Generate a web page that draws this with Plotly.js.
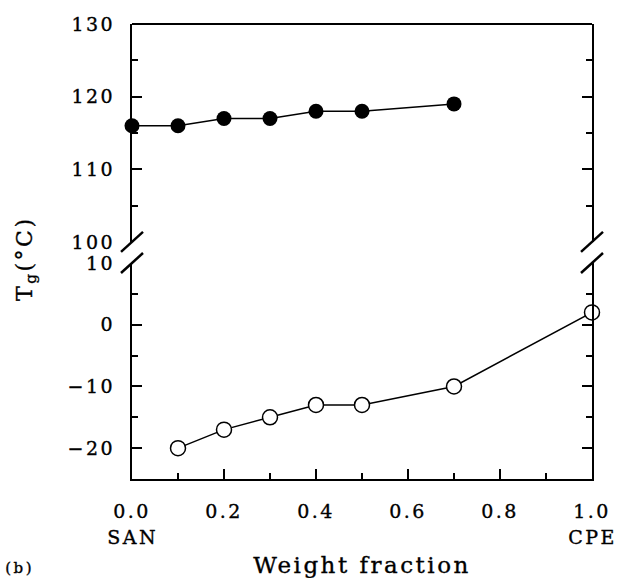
<!DOCTYPE html>
<html>
<head>
<meta charset="utf-8">
<script src="https://cdn.plot.ly/plotly-3.0.1.min.js"></script>
<style>
  html, body { margin: 0; padding: 0; background: #fff; }
  #chart { width: 619px; height: 578px; }
  /* wide, slightly heavy typewriter-style lettering */
  #chart svg text { letter-spacing: 2.5px; stroke: #000; stroke-width: 0.35px; }
</style>
</head>
<body>
<div id="chart"></div>
<script>
// Glass transition temperatures of SAN/CPE blends vs. CPE weight fraction
const sanFraction = [0.0, 0.1, 0.2, 0.3, 0.4, 0.5, 0.7];
const sanTg = [116, 116, 117, 117, 118, 118, 119];

const cpeFraction = [0.1, 0.2, 0.3, 0.4, 0.5, 0.7, 1.0];
const cpeTg = [-20, -17, -15, -13, -13, -10, 2];

const xTickVals = [0, 0.2, 0.4, 0.6, 0.8, 1.0];
const xTickText = ['0.0', '0.2', '0.4', '0.6', '0.8', '1.0'];
const upperTicks = [100, 110, 120, 130];
const lowerTicks = [-20, -10, 0, 10];

const serif = 'DejaVu Serif, Liberation Serif, serif';
const tickFont = { family: serif, size: 19, color: '#000' };

const lowerDomain = [0, 0.4747];
const upperDomain = [0.521, 1];

const traces = [
  {
    x: sanFraction, y: sanTg, xaxis: 'x', yaxis: 'y2',
    mode: 'lines+markers', cliponaxis: false,
    line: { color: '#000', width: 1.5 },
    marker: { symbol: 'circle', size: 15, color: '#000' },
    showlegend: false
  },
  {
    x: cpeFraction, y: cpeTg, xaxis: 'x', yaxis: 'y',
    mode: 'lines+markers', cliponaxis: false,
    line: { color: '#000', width: 1.5 },
    marker: { symbol: 'circle', size: 15, color: '#fff', line: { color: '#000', width: 1.5 } },
    showlegend: false
  }
];

const axisCommon = {
  showgrid: false, zeroline: false,
  showline: true, linecolor: '#000', linewidth: 2,
  ticks: 'inside', ticklen: 10, tickwidth: 2, tickcolor: '#000',
  mirror: 'ticks', tickfont: tickFont
};

// diagonal break marks on both vertical axes (paper coordinates, pixel-sized)
function breakMark(xPaper, yPaper) {
  return {
    type: 'line', xref: 'paper', yref: 'paper', layer: 'above',
    xsizemode: 'pixel', ysizemode: 'pixel',
    xanchor: xPaper, yanchor: yPaper,
    x0: -11, x1: 11, y0: -10, y1: 10,
    line: { color: '#000', width: 2.5 }
  };
}

const layout = {
  width: 619, height: 578,
  margin: { l: 132, r: 27, t: 24, b: 99 },
  paper_bgcolor: '#fff', plot_bgcolor: '#fff',
  xaxis: Object.assign({}, axisCommon, {
    range: [0, 1], anchor: 'y', mirror: false,
    tickvals: xTickVals, ticktext: xTickText,
    ticklabelstandoff: 14,
    minor: { dtick: 0.1, ticks: 'inside', ticklen: 6, tickwidth: 2, tickcolor: '#000' },
    title: { text: 'Weight fraction', font: { family: serif, size: 23, color: '#000' }, standoff: 37 }
  }),
  yaxis: Object.assign({}, axisCommon, {
    domain: lowerDomain, range: [-25, 10], anchor: 'x',
    tickvals: lowerTicks, ticktext: ['\u221220', '\u221210', '0', '10'],
    ticklabelstandoff: 11,
    minor: { dtick: 5, ticks: 'inside', ticklen: 6, tickwidth: 2, tickcolor: '#000' }
  }),
  yaxis2: Object.assign({}, axisCommon, {
    domain: upperDomain, range: [100, 130], anchor: 'x',
    tickvals: upperTicks,
    ticklabelstandoff: 11,
    minor: { dtick: 5, ticks: 'inside', ticklen: 6, tickwidth: 2, tickcolor: '#000' }
  }),
  shapes: [
    { type: 'line', xref: 'paper', yref: 'paper', x0: 0, x1: 1, y0: 1, y1: 1, line: { color: '#000', width: 2 } },
    breakMark(0, upperDomain[0]), breakMark(0, lowerDomain[1]),
    breakMark(1, upperDomain[0]), breakMark(1, lowerDomain[1])
  ],
  annotations: [
    { text: 'T<sub>g</sub>(\u00b0C)', xref: 'paper', yref: 'paper', x: -0.23, y: 0.485,
      xanchor: 'center', yanchor: 'middle', textangle: -90, showarrow: false,
      font: { family: serif, size: 22, color: '#000' } },
    { text: 'SAN', xref: 'x', yref: 'paper', x: 0, y: -0.127, xanchor: 'center', yanchor: 'middle',
      showarrow: false, font: tickFont },
    { text: 'CPE', xref: 'x', yref: 'paper', x: 1, y: -0.127, xanchor: 'center', yanchor: 'middle',
      showarrow: false, font: tickFont },
    { text: '(b)', xref: 'paper', yref: 'paper', x: -0.245, y: -0.195, xanchor: 'center', yanchor: 'middle',
      showarrow: false, font: { family: serif, size: 15, color: '#000' } }
  ]
};

Plotly.newPlot('chart', traces, layout, { displayModeBar: false, staticPlot: true });
</script>
</body>
</html>
